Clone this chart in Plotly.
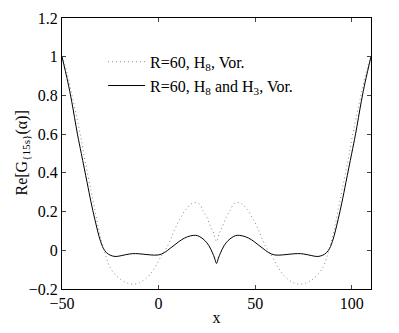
import plotly.graph_objects as go

# left half (x <= 30); the curves are symmetric about x = 30
x_solid_left = [-50, -47, -45, -42, -40, -37, -35, -33, -30, -28, -26, -24, -22, -19, -15,
                -12, -8, -4, 0, 3, 6, 9, 12, 15, 18, 20, 22, 24, 26, 28, 29, 30]
y_solid_left = [1.0, 0.87, 0.77, 0.60, 0.50, 0.35, 0.25, 0.16, 0.045, 0.0, -0.02, -0.029,
                -0.032, -0.027, -0.019, -0.017, -0.02, -0.024, -0.024, -0.012, 0.01, 0.033,
                0.055, 0.07, 0.077, 0.076, 0.066, 0.05, 0.025, -0.015, -0.04, -0.068]

x_dot_left = [-50, -48, -45, -42, -40, -38, -35, -33, -31, -29, -27, -25, -22, -19, -16,
              -13, -10, -7, -4, -2, 0, 2, 4, 6, 8, 11, 14, 17, 19, 21, 23, 25, 27, 28.5, 30]
y_dot_left = [1.0, 0.94, 0.81, 0.67, 0.57, 0.46, 0.31, 0.21, 0.11, 0.03, -0.04, -0.09,
              -0.13, -0.155, -0.17, -0.175, -0.168, -0.15, -0.12, -0.09, -0.055, -0.02,
              0.01, 0.05, 0.1, 0.16, 0.21, 0.24, 0.247, 0.24, 0.205, 0.17, 0.12, 0.09, 0.045]

def mirror(xs, ys):
    xr = [60 - v for v in reversed(xs[:-1])]
    yr = list(reversed(ys[:-1]))
    return xs + xr, ys + yr

x_dot, y_dot = mirror(x_dot_left, y_dot_left)
x_solid, y_solid = mirror(x_solid_left, y_solid_left)

serif = 'Liberation Serif'

fig = go.Figure()
fig.add_trace(go.Scatter(x=x_dot, y=y_dot, mode='lines', line_shape='spline',
                         line=dict(color='#888888', width=1, dash='1px,3px'),
                         name='R=60, H<sub>8</sub>, Vor.'))
fig.add_trace(go.Scatter(x=x_solid, y=y_solid, mode='lines', line_shape='spline',
                         line=dict(color='black', width=1),
                         name='R=60, H<sub>8</sub> and H<sub>3</sub>, Vor.'))

# the page body adds an 8px margin, so the figure is 8px smaller and margins shifted
fig.update_layout(
    width=391, height=325,
    margin=dict(l=54, r=28, t=10, b=44, autoexpand=False),
    plot_bgcolor='white', paper_bgcolor='white',
    font=dict(family=serif, color='black', size=16),
    showlegend=True,
    legend=dict(x=0.133, y=0.901, xanchor='left', yanchor='top', itemwidth=37,
                bgcolor='rgba(0,0,0,0)', font=dict(size=16), tracegroupgap=0),
    xaxis=dict(range=[-50, 110], tickvals=[-50, 0, 50, 100], ticks='inside', ticklen=4,
               showline=True, linecolor='black', linewidth=1, mirror='ticks',
               showgrid=False, zeroline=False, tickfont=dict(size=16), automargin=False,
               title=dict(text='x', standoff=0, font=dict(size=16))),
    yaxis=dict(range=[-0.2, 1.2], dtick=0.2, ticks='inside', ticklen=4,
               showline=True, linecolor='black', linewidth=1, mirror='ticks',
               showgrid=False, zeroline=False, tickfont=dict(size=16), automargin=False),
)

# y title placed by hand, closer to the tick labels than plotly allows
fig.add_annotation(text='Re[G<sub>{15s}</sub>(α)]', xref='paper', yref='paper',
                   x=0, y=0.5, xshift=-40, xanchor='center', yanchor='middle',
                   textangle=-90, showarrow=False, font=dict(size=16))

fig.write_html("out.html")
